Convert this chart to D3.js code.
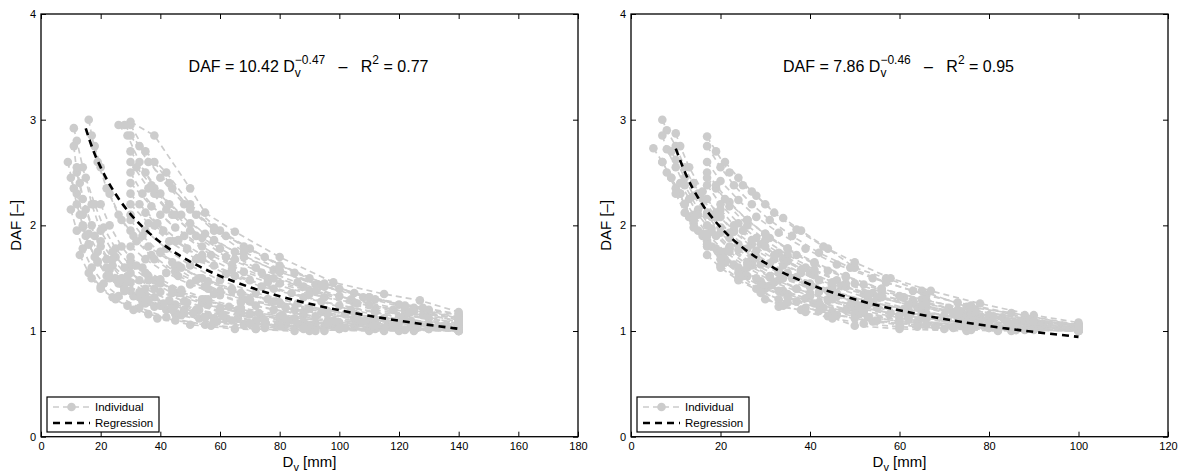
<!DOCTYPE html>
<html><head><meta charset="utf-8">
<script src="https://cdn.jsdelivr.net/npm/d3@7/dist/d3.min.js"></script>
<style>
body{margin:0;background:#fff}
text{font-family:"Liberation Sans",Arial,Helvetica,sans-serif;fill:#000;white-space:pre}
</style>
</head><body>
<svg id="c" width="1187" height="476"></svg>
<script>
// ---------- DATA ----------
const yTicks = [0, 1, 2, 3, 4];
const leftXTicks = [0, 20, 40, 60, 80, 100, 120, 140, 160, 180];
const rightXTicks = [0, 20, 40, 60, 80, 100, 120];
const legendLabels = ["Individual", "Regression"];
const xTitle = ["D", "v", " [mm]"];
const yTitle = "DAF [\u2013]";
const eqCoef = ["10.42", "7.86"];
const eqExp = ["\u22120.47", "\u22120.46"];
const eqR2 = ["0.77", "0.95"];

// Individual curves, left panel: [D_v, DAF]
const leftIndividual = [
  [[30,2.98],[38,2.85],[50,2.35],[55,2.12],[65,1.94],[80,1.7],[98,1.46],[115,1.35],[127,1.29],[140,1.18]],
  [[30,2.95],[35,2.7],[42,2.5],[50,2.2],[60,1.95],[70,1.78],[85,1.55],[100,1.4],[120,1.25],[140,1.13]],
  [[28,2.95],[33,2.75],[40,2.45],[48,2.2],[58,1.98],[68,1.8],[80,1.62],[95,1.45],[110,1.32],[125,1.22],[140,1.12]],
  [[30,2.85],[36,2.6],[44,2.35],[52,2.1],[62,1.9],[75,1.7],[90,1.5],[105,1.36],[122,1.24],[140,1.1]],
  [[30,2.7],[35,2.5],[40,2.3],[47,2.1],[55,1.92],[65,1.75],[78,1.58],[92,1.44],[108,1.32],[125,1.2],[140,1.08]],
  [[30,2.6],[36,2.35],[42,2.15],[50,1.95],[60,1.78],[72,1.6],[86,1.46],[100,1.33],[118,1.2],[140,1.07]],
  [[30,2.5],[34,2.3],[40,2.1],[48,1.9],[57,1.72],[68,1.56],[80,1.45],[95,1.32],[112,1.2],[130,1.12],[140,1.06]],
  [[30,2.4],[37,2.18],[45,1.98],[54,1.8],[64,1.63],[76,1.5],[90,1.38],[105,1.27],[122,1.16],[140,1.04]],
  [[30,2.3],[35,2.12],[41,1.95],[49,1.78],[58,1.62],[70,1.48],[84,1.36],[100,1.24],[120,1.13],[140,1.03]],
  [[30,2.2],[36,2.02],[43,1.85],[52,1.68],[62,1.54],[74,1.42],[88,1.32],[104,1.2],[122,1.1],[140,1.02]],
  [[30,2.1],[35,1.95],[42,1.78],[50,1.62],[60,1.48],[72,1.36],[86,1.26],[102,1.16],[120,1.08],[140,1.01]],
  [[30,1.95],[36,1.8],[44,1.65],[53,1.5],[64,1.38],[78,1.28],[94,1.18],[112,1.1],[140,1.02]],
  [[30,1.8],[35,1.68],[42,1.55],[50,1.44],[60,1.34],[72,1.24],[88,1.15],[106,1.08],[126,1.03],[140,1.0]],
  [[30,1.65],[36,1.52],[44,1.4],[54,1.3],[66,1.2],[80,1.12],[98,1.06],[120,1.02],[140,1.0]],
  [[38,2.6],[43,2.4],[50,2.15],[58,1.95],[68,1.75],[80,1.58],[95,1.42],[112,1.3],[130,1.2],[140,1.15]],
  [[38,2.3],[44,2.1],[52,1.9],[62,1.7],[74,1.55],[88,1.42],[104,1.3],[122,1.2],[140,1.12]],
  [[38,2.0],[45,1.85],[54,1.68],[65,1.52],[78,1.4],[94,1.28],[112,1.18],[140,1.08]],
  [[26,2.95],[29,2.85],[33,2.6],[38,2.35],[45,2.1],[54,1.88],[65,1.68],[78,1.5],[92,1.38],[110,1.25],[128,1.15],[140,1.1]],
  [[11,2.92],[12,2.8],[14,2.55],[17,2.2],[20,1.95],[25,1.7],[30,1.55],[38,1.4],[48,1.28],[60,1.18],[75,1.1],[95,1.05],[120,1.02]],
  [[16,3.0],[17,2.85],[19,2.6],[22,2.35],[26,2.1],[31,1.9],[37,1.72],[45,1.56],[55,1.42],[68,1.3],[85,1.2],[105,1.12],[130,1.06]],
  [[9,2.6],[11,2.35],[13,2.1],[15,1.9],[18,1.7],[22,1.52],[28,1.38],[35,1.26],[45,1.16],[58,1.08],[75,1.03],[95,1.0]],
  [[11,2.75],[12,2.5],[14,2.25],[17,2.0],[20,1.8],[24,1.62],[30,1.46],[38,1.32],[48,1.2],[62,1.12],[80,1.05],[100,1.02],[125,1.0]],
  [[10,2.15],[12,1.95],[14,1.78],[17,1.6],[21,1.45],[26,1.33],[33,1.22],[42,1.13],[55,1.06],[72,1.02],[90,1.0]],
  [[12,2.3],[14,2.1],[16,1.92],[19,1.75],[23,1.58],[28,1.45],[35,1.34],[44,1.24],[56,1.15],[72,1.08],[92,1.03],[115,1.0]],
  [[14,1.98],[16,1.82],[19,1.65],[23,1.5],[28,1.38],[34,1.28],[42,1.2],[53,1.12],[68,1.06],[88,1.02],[110,1.0]],
  [[18,2.75],[20,2.55],[23,2.3],[27,2.05],[32,1.85],[38,1.68],[46,1.52],[56,1.4],[70,1.28],[88,1.18],[110,1.1],[135,1.05]],
  [[15,2.45],[18,2.2],[21,1.98],[25,1.78],[30,1.62],[36,1.48],[44,1.36],[54,1.26],[67,1.17],[84,1.1],[105,1.05],[130,1.02]],
  [[20,2.2],[23,2.0],[27,1.8],[32,1.62],[38,1.48],[46,1.36],[56,1.25],[70,1.16],[88,1.09],[110,1.04],[140,1.0]],
  [[13,1.72],[16,1.55],[20,1.42],[25,1.3],[31,1.2],[39,1.12],[50,1.06],[65,1.02],[85,1.0]],
  [[22,1.6],[26,1.45],[31,1.33],[38,1.23],[47,1.15],[59,1.09],[75,1.04],[95,1.01],[120,1.0]],
  [[25,1.5],[30,1.38],[36,1.28],[44,1.2],[55,1.13],[70,1.07],[90,1.03],[115,1.01],[140,1.0]],
  [[20,1.85],[24,1.68],[29,1.52],[35,1.4],[43,1.29],[53,1.2],[66,1.12],[82,1.06],[100,1.03],[125,1.01]],
  [[24,1.75],[28,1.6],[33,1.48],[40,1.37],[49,1.27],[60,1.19],[74,1.12],[92,1.07],[115,1.03],[140,1.02]],
  [[17,1.5],[20,1.4],[24,1.32],[29,1.24],[36,1.16],[45,1.1],[57,1.05],[72,1.02],[92,1.0]],
  [[28,1.4],[33,1.32],[40,1.24],[48,1.17],[58,1.12],[72,1.07],[90,1.04],[112,1.02],[140,1.01]],
  [[35,1.55],[40,1.45],[47,1.36],[56,1.28],[67,1.2],[80,1.14],[96,1.09],[116,1.05],[140,1.03]],
  [[40,1.75],[46,1.62],[54,1.5],[64,1.4],[76,1.3],[90,1.22],[106,1.15],[124,1.1],[140,1.06]],
  [[45,1.6],[52,1.48],[60,1.38],[70,1.3],[82,1.22],[96,1.16],[112,1.11],[130,1.07],[140,1.05]],
  [[50,1.45],[58,1.35],[67,1.27],[78,1.2],[92,1.14],[108,1.09],[125,1.06],[140,1.04]],
  [[55,1.3],[63,1.23],[73,1.17],[85,1.12],[100,1.08],[118,1.05],[140,1.03]],
  [[60,1.22],[70,1.16],[82,1.11],[96,1.07],[112,1.04],[130,1.02],[140,1.02]],
  [[45,1.25],[52,1.2],[61,1.15],[72,1.1],[86,1.06],[102,1.03],[122,1.01],[140,1.0]],
  [[32,2.55],[37,2.38],[43,2.2],[50,2.02],[58,1.86],[68,1.7],[80,1.56],[94,1.43],[110,1.32],[128,1.22],[140,1.16]],
  [[33,2.2],[39,2.02],[46,1.86],[54,1.72],[64,1.58],[76,1.46],[90,1.35],[106,1.26],[124,1.18],[140,1.12]],
  [[30,2.05],[34,1.9],[40,1.74],[47,1.6],[56,1.47],[67,1.36],[80,1.27],[96,1.19],[115,1.12],[140,1.06]],
  [[30,1.7],[34,1.6],[40,1.49],[47,1.39],[56,1.3],[67,1.22],[81,1.15],[98,1.1],[118,1.06],[140,1.04]],
  [[12,2.55],[13,2.4],[15,2.15],[18,1.9],[22,1.68],[27,1.5],[33,1.37],[41,1.26],[51,1.17],[64,1.1],[80,1.05],[100,1.02]],
  [[10,2.45],[12,2.2],[14,2.0],[16,1.82],[19,1.66],[23,1.52],[28,1.4],[35,1.3],[44,1.21],[55,1.13],[70,1.07],[88,1.03]]
];
// Regression points read along DAF = 10.42 Dv^-0.47
const leftRegression = [[15,2.918],[17.5,2.71],[20,2.549],[25,2.296],[30,2.107],[35,1.960],[40,1.840],[50,1.657],[60,1.521],[70,1.415],[80,1.329],[90,1.258],[100,1.197],[110,1.144],[120,1.098],[130,1.058],[140,1.021]];

// Individual curves, right panel
const rightIndividual = [
  [[7,3.0],[8,2.9],[10,2.75],[12,2.55],[15,2.3],[18,2.08],[22,1.88],[27,1.7],[33,1.55],[40,1.42],[50,1.28],[62,1.17],[76,1.09],[90,1.04],[100,1.02]],
  [[5,2.73],[7,2.6],[9,2.45],[11,2.3],[14,2.1],[17,1.92],[21,1.75],[26,1.6],[32,1.46],[40,1.33],[50,1.22],[62,1.13],[76,1.06],[90,1.02],[100,1.0]],
  [[10,2.87],[11,2.75],[13,2.55],[16,2.32],[19,2.12],[23,1.94],[28,1.76],[34,1.62],[42,1.48],[52,1.35],[64,1.23],[78,1.13],[92,1.06],[100,1.03]],
  [[7,2.85],[8,2.72],[10,2.55],[12,2.38],[15,2.15],[18,1.97],[22,1.8],[27,1.64],[34,1.5],[42,1.37],[52,1.25],[65,1.15],[80,1.07],[100,1.01]],
  [[7,2.6],[9,2.45],[11,2.3],[13,2.08],[16,1.9],[20,1.72],[25,1.57],[31,1.43],[39,1.31],[48,1.2],[60,1.11],[75,1.05],[90,1.01],[100,1.0]],
  [[8,2.5],[10,2.35],[12,2.2],[14,2.02],[17,1.85],[21,1.68],[26,1.52],[33,1.38],[41,1.26],[51,1.16],[64,1.08],[80,1.03],[100,1.0]],
  [[9,2.7],[10,2.62],[12,2.45],[14,2.28],[17,2.1],[20,1.93],[24,1.77],[29,1.63],[36,1.5],[44,1.38],[54,1.27],[66,1.17],[80,1.09],[100,1.02]],
  [[11,2.4],[13,2.25],[15,2.1],[18,1.94],[22,1.78],[27,1.62],[33,1.48],[40,1.36],[49,1.25],[60,1.15],[74,1.08],[90,1.03],[100,1.01]],
  [[13,2.08],[15,1.95],[18,1.8],[21,1.65],[25,1.52],[30,1.4],[37,1.28],[45,1.18],[55,1.1],[68,1.04],[85,1.0]],
  [[12,2.2],[14,2.05],[16,1.92],[19,1.78],[23,1.63],[28,1.5],[34,1.38],[42,1.27],[52,1.17],[64,1.09],[80,1.03],[100,1.0]],
  [[17,2.84],[19,2.7],[22,2.5],[25,2.38],[27,2.32],[30,2.2],[34,2.07],[38,1.95],[44,1.78],[50,1.6],[57,1.5],[65,1.38],[75,1.23],[88,1.15],[100,1.05]],
  [[17,2.75],[20,2.55],[23,2.38],[27,2.2],[31,2.05],[36,1.9],[42,1.74],[49,1.6],[57,1.46],[66,1.34],[76,1.24],[88,1.13],[100,1.04]],
  [[17,2.6],[20,2.42],[24,2.24],[28,2.08],[33,1.93],[39,1.78],[46,1.63],[54,1.5],[63,1.38],[73,1.27],[85,1.17],[100,1.06]],
  [[17,2.5],[19,2.38],[22,2.22],[26,2.05],[30,1.92],[35,1.78],[41,1.65],[48,1.52],[56,1.4],[65,1.3],[76,1.2],[88,1.12],[100,1.05]],
  [[17,2.38],[20,2.2],[24,2.02],[28,1.88],[33,1.74],[39,1.6],[46,1.48],[54,1.36],[63,1.26],[74,1.17],[87,1.09],[100,1.03]],
  [[17,2.25],[20,2.08],[23,1.95],[27,1.82],[32,1.68],[38,1.55],[45,1.42],[53,1.31],[62,1.21],[73,1.13],[86,1.06],[100,1.02]],
  [[17,2.12],[20,1.98],[24,1.82],[28,1.7],[33,1.57],[39,1.45],[46,1.33],[55,1.22],[65,1.13],[77,1.06],[90,1.02],[100,1.01]],
  [[17,2.0],[19,1.9],[22,1.78],[26,1.65],[31,1.52],[37,1.4],[44,1.29],[52,1.19],[62,1.11],[74,1.05],[88,1.01]],
  [[17,1.9],[20,1.75],[24,1.6],[29,1.47],[35,1.35],[42,1.25],[50,1.16],[60,1.09],[72,1.04],[86,1.01],[100,1.0]],
  [[17,1.8],[21,1.65],[25,1.52],[29,1.36],[33,1.23],[38,1.2],[44,1.14],[50,1.05],[60,1.02],[75,1.0]],
  [[19,2.35],[22,2.18],[26,2.0],[30,1.86],[35,1.72],[41,1.58],[48,1.45],[56,1.34],[66,1.23],[77,1.14],[90,1.07],[100,1.03]],
  [[17,2.45],[21,2.25],[26,2.05],[31,1.88],[37,1.72],[44,1.57],[52,1.44],[61,1.32],[71,1.22],[83,1.13],[100,1.04]],
  [[20,1.62],[24,1.5],[28,1.4],[33,1.3],[39,1.22],[46,1.15],[54,1.09],[64,1.04],[76,1.01]],
  [[21,2.6],[24,2.45],[28,2.28],[32,2.12],[37,1.96],[43,1.8],[50,1.65],[58,1.5],[67,1.38],[78,1.26],[90,1.15],[100,1.08]],
  [[10,2.3],[12,2.12],[14,1.98],[17,1.82],[20,1.68],[24,1.55],[29,1.43],[35,1.32],[43,1.22],[53,1.13],[66,1.06],[82,1.02],[100,1.0]],
  [[14,2.4],[16,2.25],[19,2.08],[22,1.93],[26,1.78],[31,1.64],[37,1.51],[45,1.38],[54,1.27],[65,1.17],[78,1.1],[92,1.04],[100,1.02]],
  [[17,1.72],[20,1.6],[24,1.48],[29,1.37],[35,1.27],[42,1.19],[50,1.12],[60,1.07],[72,1.03],[86,1.01]],
  [[22,1.75],[26,1.63],[31,1.51],[37,1.4],[44,1.3],[52,1.22],[62,1.14],[73,1.08],[86,1.04],[100,1.02]],
  [[25,1.95],[29,1.82],[34,1.68],[40,1.55],[47,1.43],[55,1.32],[64,1.23],[75,1.15],[88,1.09],[100,1.05]],
  [[30,1.8],[35,1.66],[41,1.53],[48,1.42],[56,1.32],[65,1.24],[76,1.16],[88,1.1],[100,1.06]],
  [[35,1.55],[40,1.45],[46,1.36],[53,1.28],[61,1.21],[70,1.15],[80,1.1],[91,1.06],[100,1.04]],
  [[40,1.42],[46,1.33],[53,1.25],[61,1.18],[70,1.12],[80,1.08],[90,1.05],[100,1.03]],
  [[45,1.3],[51,1.23],[58,1.17],[66,1.12],[75,1.08],[85,1.05],[100,1.02]],
  [[30,1.3],[34,1.24],[39,1.18],[45,1.12],[52,1.07],[60,1.04],[70,1.02],[82,1.0]],
  [[50,1.45],[56,1.37],[63,1.29],[71,1.21],[80,1.15],[90,1.1],[100,1.06]],
  [[20,2.15],[23,2.0],[27,1.86],[32,1.72],[38,1.58],[45,1.46],[53,1.35],[62,1.25],[72,1.16],[84,1.09],[100,1.03]],
  [[26,2.05],[30,1.92],[35,1.78],[41,1.64],[48,1.51],[56,1.4],[66,1.29],[77,1.19],[89,1.11],[100,1.06]],
  [[60,1.33],[66,1.26],[73,1.2],[81,1.14],[90,1.09],[100,1.05]]
];
// Regression points read along DAF = 7.86 Dv^-0.46
const rightRegression = [[10,2.726],[12.5,2.460],[15,2.261],[20,1.982],[25,1.788],[30,1.644],[40,1.441],[50,1.300],[60,1.196],[70,1.114],[80,1.047],[90,0.992],[100,0.945]];

// ---------- DRAW ----------
const svg = d3.select("#c");
const GRAY = "#cccccc";
const yTop = 14, yBot = 436.7;

function panel(opt) {
  const g = svg.append("g");
  const x = d3.scaleLinear().domain([opt.xTicks[0], opt.xTicks[opt.xTicks.length-1]]).range([opt.x0, opt.x1]);
  const y = d3.scaleLinear().domain([0, 4]).range([yBot, yTop]);
  const line = d3.line().x(d => x(d[0])).y(d => y(d[1]));

  opt.series.forEach(s => {
    g.append("path").attr("d", line(s)).attr("fill", "none")
      .attr("stroke", GRAY).attr("stroke-width", 1.7).attr("stroke-dasharray", "6,4");
    g.selectAll(null).data(s).enter().append("circle")
      .attr("cx", d => x(d[0])).attr("cy", d => y(d[1])).attr("r", 4.3).attr("fill", GRAY);
  });
  g.append("path").attr("d", d3.line().x(d => x(d[0])).y(d => y(d[1])).curve(d3.curveMonotoneX)(opt.reg))
    .attr("fill", "none").attr("stroke", "#000").attr("stroke-width", 2.6).attr("stroke-dasharray", "7,5");

  const fmt = d3.format("d");
  const ax = (a) => a.tickSizeInner(-5).tickSizeOuter(0);
  const gb = g.append("g").attr("transform", `translate(0,${yBot})`)
    .call(ax(d3.axisBottom(x).tickValues(opt.xTicks).tickFormat(fmt)).tickPadding(6));
  const gl = g.append("g").attr("transform", `translate(${opt.x0},0)`)
    .call(ax(d3.axisLeft(y).tickValues(yTicks).tickFormat(fmt)).tickPadding(5));
  const gt = g.append("g").attr("transform", `translate(0,${yTop})`)
    .call(ax(d3.axisTop(x).tickValues(opt.xTicks).tickFormat("")));
  const gr = g.append("g").attr("transform", `translate(${opt.x1},0)`)
    .call(ax(d3.axisRight(y).tickValues(yTicks).tickFormat("")));
  [gb, gl, gt, gr].forEach(a => {
    a.selectAll(".domain").remove();
    a.selectAll("line").attr("stroke", "#000").attr("stroke-width", 1);
    a.selectAll("text").attr("font-size", 11).attr("font-family", '"Liberation Sans",Arial,sans-serif').attr("fill", "#000");
  });
  g.append("rect").attr("x", opt.x0).attr("y", yTop).attr("width", opt.x1 - opt.x0).attr("height", yBot - yTop)
    .attr("fill", "none").attr("stroke", "#000").attr("stroke-width", 1.3);

  const cx = (opt.x0 + opt.x1) / 2;
  const xt = g.append("text").attr("x", cx).attr("y", 467).attr("text-anchor", "middle").attr("font-size", 15);
  xt.append("tspan").text(xTitle[0]);
  xt.append("tspan").attr("font-size", 11).attr("dy", 4).text(xTitle[1]);
  xt.append("tspan").attr("dy", -4).text(xTitle[2]);
  g.append("text").attr("transform", `translate(${opt.x0 - 20},${(yTop + yBot) / 2}) rotate(-90)`)
    .attr("text-anchor", "middle").attr("font-size", 15).text(yTitle);

  const eq = g.append("g");
  let cur = 0;
  const base = 72;
  const put = (txt, size, dy, advance = true) => {
    const t = eq.append("text").attr("x", cur).attr("y", base + dy).attr("font-size", size).text(txt);
    const w = t.node().getComputedTextLength();
    if (advance) cur += w;
    return w;
  };
  put("DAF = " + opt.coef + " D", 16, 0);
  const w1 = put("v", 12, 5, false);
  const w2 = put(opt.exp, 12, -8, false);
  cur += Math.max(w1, w2);
  put("   \u2013   R", 16, 0);
  put("2", 12, -8);
  put(" = " + opt.r2, 16, 0);
  eq.attr("transform", `translate(${cx - 1 - cur / 2},0)`);

  const lx = opt.x0 + 6, ly = 397;
  const lg = g.append("g");
  lg.append("rect").attr("x", lx).attr("y", ly).attr("width", 112).attr("height", 35)
    .attr("fill", "#fff").attr("stroke", "#000").attr("stroke-width", 1.2);
  lg.append("line").attr("x1", lx + 6).attr("x2", lx + 43).attr("y1", ly + 10).attr("y2", ly + 10)
    .attr("stroke", GRAY).attr("stroke-width", 1.7).attr("stroke-dasharray", "6,4");
  lg.append("circle").attr("cx", lx + 24.5).attr("cy", ly + 10).attr("r", 4.3).attr("fill", GRAY);
  lg.append("line").attr("x1", lx + 6).attr("x2", lx + 43).attr("y1", ly + 26).attr("y2", ly + 26)
    .attr("stroke", "#000").attr("stroke-width", 2.6).attr("stroke-dasharray", "7,5");
  lg.append("text").attr("x", lx + 48).attr("y", ly + 14).attr("font-size", 11.5).text(legendLabels[0]);
  lg.append("text").attr("x", lx + 48).attr("y", ly + 30).attr("font-size", 11.5).text(legendLabels[1]);
}

panel({x0: 41, x1: 578, xTicks: leftXTicks, series: leftIndividual, reg: leftRegression,
       coef: eqCoef[0], exp: eqExp[0], r2: eqR2[0]});
panel({x0: 631, x1: 1168, xTicks: rightXTicks, series: rightIndividual, reg: rightRegression,
       coef: eqCoef[1], exp: eqExp[1], r2: eqR2[1]});
</script>
</body></html>
